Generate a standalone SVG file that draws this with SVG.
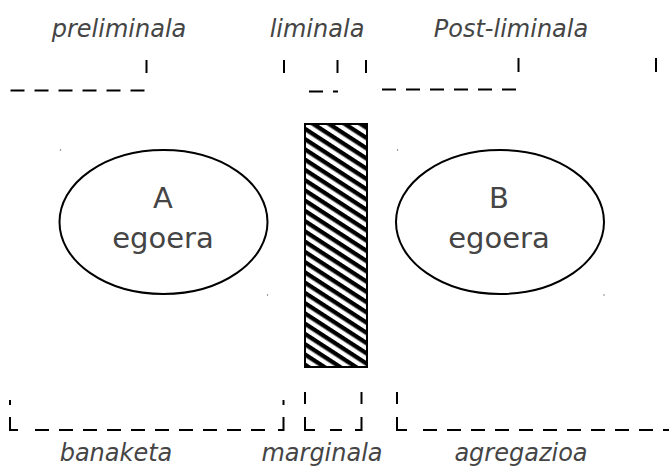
<svg xmlns="http://www.w3.org/2000/svg" width="669" height="467" viewBox="0 0 669 467">
<style>
.lbl{font-family:"DejaVu Sans",sans-serif;font-style:italic;font-size:24px;fill:#454545;text-anchor:middle}
.ntx{font-family:"DejaVu Sans",sans-serif;font-size:29px;fill:#454545;text-anchor:middle}
.ln{stroke:#000;stroke-width:2;fill:none}
.dsh{stroke:#000;stroke-width:2;fill:none;stroke-dasharray:14 10}
.el{fill:#fff;stroke:#000;stroke-width:2}
.dot{fill:#666}
</style>
<defs>
<pattern id="hatch" patternUnits="userSpaceOnUse" width="8.6" height="8.6" patternTransform="rotate(33)">
<rect width="8.6" height="8.6" fill="#fff"/>
<rect width="8.6" height="4.3" fill="#000"/>
</pattern>
</defs>
<g id="labels">
<text class="lbl" x="119" y="37">preliminala</text>
<text class="lbl" x="317" y="37">liminala</text>
<text class="lbl" x="511" y="37">Post-liminala</text>
<text class="lbl" x="116" y="461">banaketa</text>
<text class="lbl" x="322" y="461">marginala</text>
<text class="lbl" x="521" y="461">agregazioa</text>
</g>
<g id="nodeA">
<ellipse class="el" cx="163.5" cy="222" rx="104" ry="72"/>
<text class="ntx" x="163" y="208">A</text>
<text class="ntx" x="163" y="248">egoera</text>
<circle class="dot" cx="60.5" cy="150" r="0.7"/>
<circle class="dot" cx="267.5" cy="295" r="0.7"/>
</g>
<g id="nodeB">
<ellipse class="el" cx="500" cy="222" rx="104" ry="72"/>
<text class="ntx" x="499" y="208">B</text>
<text class="ntx" x="499" y="248">egoera</text>
<circle class="dot" cx="397.5" cy="150" r="0.7"/>
<circle class="dot" cx="604" cy="295" r="0.7"/>
</g>
<g id="barrier">
<rect x="305" y="124" width="62" height="243" fill="url(#hatch)" stroke="#000" stroke-width="2"/>
</g>
<g id="connectors">
<line class="dsh" x1="10.5" y1="90.5" x2="146" y2="90.5"/>
<line class="dsh" x1="309" y1="91.5" x2="338" y2="91.5"/>
<line class="dsh" x1="382" y1="89.5" x2="517" y2="89.5"/>
<line class="ln" x1="146.5" y1="60" x2="146.5" y2="73"/>
<line class="ln" x1="284" y1="60" x2="284" y2="73"/>
<line class="ln" x1="337.5" y1="60" x2="337.5" y2="73"/>
<line class="ln" x1="366" y1="60" x2="366" y2="73"/>
<line class="ln" x1="518.5" y1="58" x2="518.5" y2="72"/>
<line class="ln" x1="656" y1="58" x2="656" y2="72"/>
<line class="ln" x1="10" y1="400" x2="10" y2="405"/>
<polyline class="ln" points="10,417 10,430 18,430"/>
<line class="dsh" x1="35" y1="430" x2="266" y2="430"/>
<polyline class="ln" points="278,430 283.5,430 283.5,417"/>
<line class="ln" x1="283.5" y1="400" x2="283.5" y2="405"/>
<line class="ln" x1="305" y1="392" x2="305" y2="404"/>
<polyline class="ln" points="305,417 305,430 315,430"/>
<line class="ln" x1="330" y1="430" x2="342" y2="430"/>
<polyline class="ln" points="355,430 361.5,430 361.5,417"/>
<line class="ln" x1="361.5" y1="392" x2="361.5" y2="404"/>
<line class="ln" x1="397" y1="392" x2="397" y2="404"/>
<polyline class="ln" points="397,417 397,430 407,430"/>
<line class="dsh" x1="423" y1="430" x2="680" y2="430"/>
</g>
</svg>
